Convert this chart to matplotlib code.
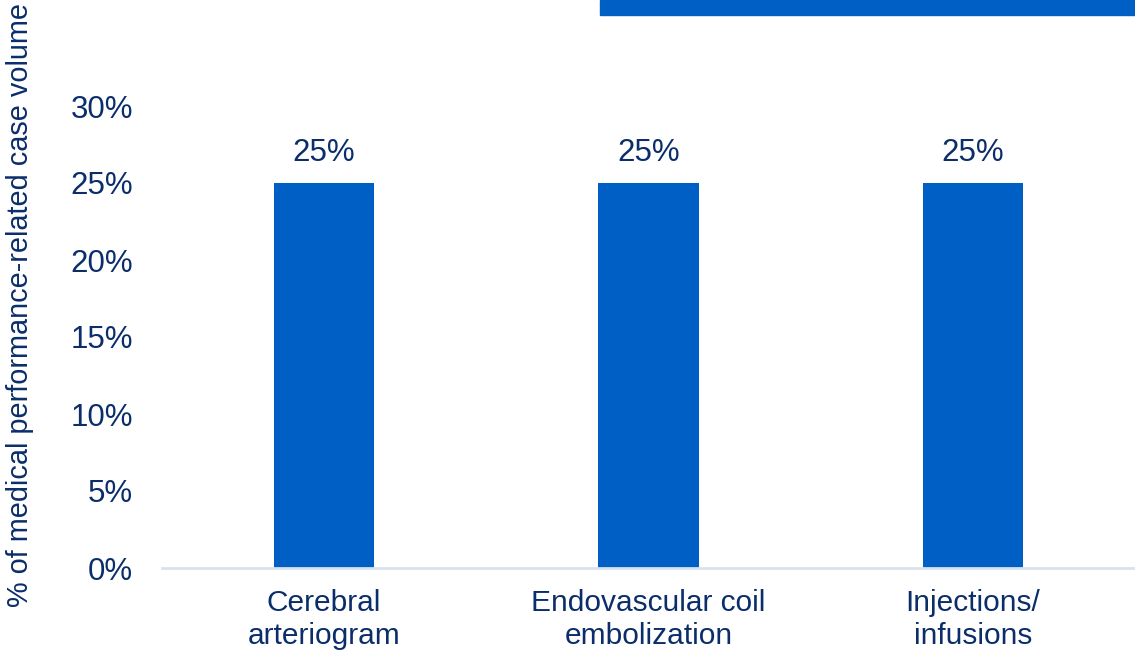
import matplotlib.pyplot as plt
from matplotlib.patches import Rectangle

# chart data
categories = ['Cerebral\narteriogram', 'Endovascular coil\nembolization', 'Injections/\ninfusions']
shares = [0.25, 0.25, 0.25]
yticks = [0, 0.05, 0.10, 0.15, 0.20, 0.25, 0.30]

bar_color = '#005FC5'
text_color = '#0B2E6B'
axis_color = '#D9E2EE'

plt.rcParams['font.family'] = ['Liberation Sans', 'DejaVu Sans']

fig = plt.figure(figsize=(11.35, 6.52), dpi=100)
ax = fig.add_axes([162 / 1135, 1 - 568 / 652, 1 - 162 / 1135, (568 - 106) / 652])

x = range(len(categories))
bars = ax.bar(x, shares, width=0.31, color=bar_color)

for b, v in zip(bars, shares):
    ax.annotate(f'{v:.0%}', (b.get_x() + b.get_width() / 2, v), xytext=(0, 11),
                textcoords='offset points', ha='center', va='bottom',
                fontsize=22.5, color=text_color, clip_on=False)

ax.set_xlim(-0.5, len(categories) - 0.5)
ax.set_ylim(0, 0.30)
ax.set_yticks(yticks)
ax.set_yticklabels([f'{t:.0%}' for t in yticks], fontsize=22.5)
ax.set_xticks(list(x))
ax.set_xticklabels(categories, linespacing=1.22, fontsize=21.5)

for s in ['top', 'right', 'left']:
    ax.spines[s].set_visible(False)
ax.spines['bottom'].set_color(axis_color)
ax.spines['bottom'].set_linewidth(2)
ax.tick_params(length=0, colors=text_color)
ax.tick_params(axis='y', pad=21)
ax.tick_params(axis='x', pad=15)

fig.text(20 / 1135, 1 - 305 / 652, '% of medical performance-related case volume',
         rotation=90, ha='center', va='center', fontsize=20.8, color=text_color)

# banner strip at the top right
fig.patches.append(Rectangle((600 / 1135, 1 - 15 / 652), 1 - 600 / 1135, 15 / 652,
                             transform=fig.transFigure, color=bar_color))

fig.savefig('out.png', dpi=100)
